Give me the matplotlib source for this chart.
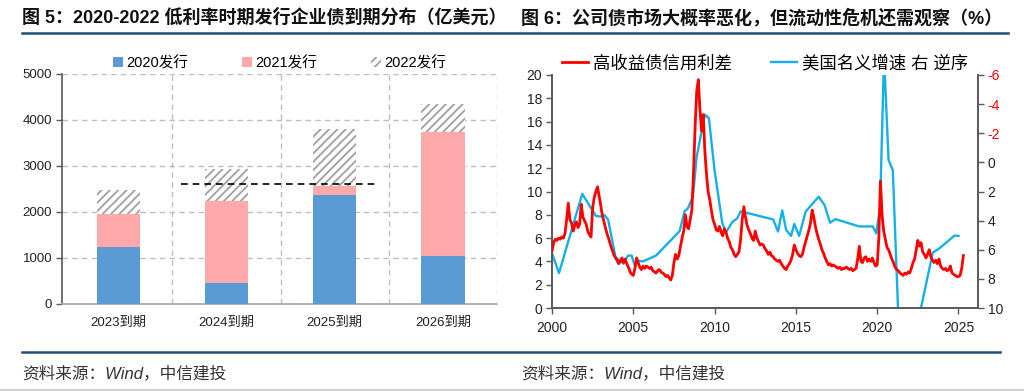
import numpy as np
import matplotlib
matplotlib.use('Agg')
import matplotlib.pyplot as plt
from matplotlib.lines import Line2D
from matplotlib.patches import Patch

plt.rcParams['font.family'] = ['Liberation Sans', 'Noto Sans CJK SC', 'DejaVu Sans']
plt.rcParams['hatch.linewidth'] = 1.3
plt.rcParams['axes.unicode_minus'] = False

# ---------------- data: left chart ----------------
categories = ['2023到期', '2024到期', '2025到期', '2026到期']
bar_series = ['2020发行', '2021发行', '2022发行']
issued_2020 = [1235, 455, 2375, 1035]
issued_2021 = [730, 1795, 180, 2700]
issued_2022 = [520, 695, 1245, 615]
ref_level = 2610
left_yticks = [0, 1000, 2000, 3000, 4000, 5000]

# ---------------- data: right chart ----------------
line_names = ['高收益债信用利差', '美国名义增速 右 逆序']
red_start = 2000.0
red_vals = [
    4.9, 5.6, 5.9, 5.8, 6.0, 5.9, 6.1, 6.0, 6.4, 7.6,
    9.0, 7.6, 7.3, 6.6, 7.1, 7.4, 6.9, 7.2, 8.9, 7.8,
    7.5, 7.2, 6.6, 6.3, 6.1, 8.6, 9.5, 10.0, 10.4, 9.6,
    8.8, 7.9, 7.4, 6.8, 6.3, 5.9, 5.4, 5.0, 4.6, 4.3,
    4.1, 3.8, 4.0, 4.3, 3.9, 4.2, 3.8, 3.5, 3.1, 2.9,
    2.8, 3.4, 4.3, 3.9, 3.5, 3.3, 3.6, 3.4, 3.6, 3.5,
    3.4, 3.5, 3.2, 3.1, 3.0, 3.2, 3.3, 3.1, 3.0, 2.9,
    2.7, 2.8, 2.6, 2.4, 2.8, 3.9, 4.6, 4.2, 4.5, 5.3,
    6.0, 6.6, 8.0, 7.0, 6.8, 7.6, 8.4, 11.5, 15.5, 18.6,
    19.6, 17.0, 15.2, 16.6, 13.5, 11.5, 10.0, 9.3, 8.4, 7.6,
    7.2, 6.7, 6.6, 7.0, 6.5, 6.2, 6.8, 6.5, 6.0, 5.7,
    5.2, 5.0, 4.6, 4.4, 4.6, 4.8, 5.9, 7.6, 8.7, 7.8,
    7.1, 6.7, 6.4, 6.0, 5.8, 6.6, 6.0, 5.7, 5.4, 5.5,
    5.4, 5.1, 4.9, 4.6, 4.8, 4.5, 4.4, 4.2, 4.1, 4.0,
    4.1, 3.8, 3.6, 3.4, 3.3, 3.6, 3.8, 4.1, 4.6, 5.4,
    5.0, 4.7, 4.5, 4.4, 4.6, 5.2, 5.7, 6.2, 6.7, 7.3,
    8.4, 7.8, 7.0, 6.4, 5.9, 5.5, 5.0, 4.7, 4.3, 4.0,
    3.7, 3.8, 3.6, 3.7, 3.6, 3.5, 3.4, 3.5, 3.3, 3.4,
    3.4, 3.5, 3.4, 3.3, 3.4, 3.2, 3.3, 3.4, 4.2, 5.3,
    4.0, 3.9, 4.3, 4.4, 4.0, 4.2, 4.0, 4.3, 3.9, 3.6,
    3.7, 6.0, 10.9, 8.0, 6.6, 5.9, 5.2, 5.0, 4.6, 4.2,
    3.9, 3.5, 3.3, 3.2, 3.0, 2.9, 2.8, 3.0, 2.9, 3.1,
    3.0, 3.4, 3.9, 4.2, 5.0, 5.8, 5.3, 5.6, 4.8, 4.6,
    4.3, 4.6, 5.0, 4.4, 4.1, 3.9, 4.1, 3.8, 4.2, 3.6,
    3.4, 3.3, 3.4, 3.2, 3.3, 3.6, 3.0, 2.9, 2.8, 2.7,
    2.7, 2.8, 3.4, 4.5,
]
blue_years = [2000.0, 2000.43, 2001.86, 2002.7, 2003.0, 2003.2, 2003.45, 2003.9,
              2004.4, 2004.67, 2004.9, 2005.1, 2005.3, 2005.6, 2006.4, 2007.85,
              2008.15, 2008.36, 2008.67, 2008.9, 2009.4, 2009.65, 2010.0, 2010.47,
              2010.7, 2011.1, 2011.4, 2011.6, 2013.6, 2013.9, 2014.16, 2014.4,
              2014.7, 2014.9, 2015.2, 2015.6, 2016.4, 2016.76, 2017.1, 2017.44,
              2018.9, 2019.73, 2019.94, 2020.18, 2020.39, 2020.47, 2020.7, 2020.96,
              2021.5, 2021.75, 2022.0, 2022.25, 2022.5, 2023.42, 2023.83, 2024.75,
              2025.0]
blue_vals = [6.24, 7.6, 2.16, 3.68, 3.72, 3.6, 3.92, 6.48,
             6.96, 6.4, 6.4, 7.12, 6.76, 6.8, 6.4, 4.72,
             3.36, 3.16, 2.32, -0.4, -3.28, -3.04, 0.56, 4.16,
             4.8, 4.08, 3.84, 3.36, 3.92, 4.75, 3.3, 4.64,
             5.05, 4.23, 5.05, 3.38, 2.36, 2.93, 4.14, 3.9,
             4.4, 4.4, 4.87, 3.04, -6.0, -6.0, -0.15, 0.53,
             16.5, 14.5, 14.0, 12.5, 11.0, 6.19, 5.9, 5.03,
             5.05]
right_xticks = [2000, 2005, 2010, 2015, 2020, 2025]
left_axis_ticks = list(range(0, 21, 2))
right_axis_ticks = list(range(-6, 11, 2))

titles = ['图 5：2020-2022 低利率时期发行企业债到期分布（亿美元）',
          '图 6：公司债市场大概率恶化，但流动性危机还需观察（%）']
source_text = '资料来源：Wind，中信建投'

# ---------------- style ----------------
C_BLUE = '#5B9BD5'
C_PINK = '#FFA9AA'
C_HATCH = '#A0A0A0'
C_RED = '#FF0000'
C_SKY = '#15B0EA'
C_AXIS = '#595959'
C_GRID = '#BFBFBF'
C_HEAD = '#1F4E79'
TXT = '#222222'

W, H = 1024, 392
fig = plt.figure(figsize=(W / 100, H / 100), dpi=100)

def fx(px):
    return px / W

def fy(py):
    return 1 - py / H

# titles and rules
fig.text(fx(22), fy(18), titles[0], fontsize=13, fontweight='bold',
         va='center', ha='left', color='#111111')
fig.text(fx(521), fy(18), titles[1], fontsize=13, fontweight='bold',
         va='center', ha='left', color='#111111')
fig.add_artist(Line2D([fx(22), fx(1008)], [fy(33), fy(33)], color=C_HEAD, lw=1.8))
fig.add_artist(Line2D([fx(22), fx(1000)], [fy(352), fy(352)], color=C_HEAD, lw=1.8))
fig.add_artist(Line2D([0, 1], [fy(390), fy(390)], color='#C8C8C8', lw=1.2))
fig.text(fx(22), fy(373), source_text, fontsize=12, style='italic',
         va='center', ha='left', color='#333333')
fig.text(fx(521), fy(373), source_text, fontsize=12, style='italic',
         va='center', ha='left', color='#333333')

# ---------------- left chart ----------------
ax1 = fig.add_axes([fx(62), fy(304), fx(497) - fx(62), fy(74) - fy(304)])
x = np.arange(len(categories))
bw = 0.4
ax1.bar(x, issued_2020, bw, color=C_BLUE, zorder=3)
bottom2 = np.array(issued_2020)
ax1.bar(x, issued_2021, bw, bottom=bottom2, color=C_PINK, zorder=3)
bottom3 = bottom2 + np.array(issued_2021)
ax1.bar(x, issued_2022, bw, bottom=bottom3, facecolor='white',
        edgecolor=C_HATCH, hatch='////', linewidth=0, zorder=3)
ax1.plot([0.58, 2.37], [ref_level, ref_level], color='black', lw=1.2,
         dashes=(4, 3), zorder=4)
ax1.set_xlim(-0.52, 3.5)
ax1.set_ylim(0, 5000)
ax1.set_yticks(left_yticks)
ax1.set_xticks(x)
ax1.set_xticklabels(categories)
ax1.set_xticks([0.5, 1.5, 2.5, 3.5], minor=True)
ax1.tick_params(axis='x', which='both', length=0, pad=9, labelsize=9.5, colors=TXT)
ax1.tick_params(axis='y', length=4, width=1, color=C_AXIS, labelsize=9.5,
                colors=TXT, pad=3)
ax1.grid(axis='y', which='major', color=C_GRID, lw=1, dashes=(4, 3), zorder=0)
ax1.grid(axis='x', which='minor', color=C_GRID, lw=1, dashes=(4, 3), zorder=0)
ax1.set_axisbelow(True)
for s in ['top', 'right']:
    ax1.spines[s].set_visible(False)
ax1.spines['left'].set_color(C_AXIS)
ax1.spines['bottom'].set_color('#A6A6A6')
ax1.spines['left'].set_linewidth(1.2)
ax1.spines['bottom'].set_linewidth(1.2)
handles = [Patch(facecolor=C_BLUE), Patch(facecolor=C_PINK),
           Patch(facecolor='white', edgecolor=C_HATCH, hatch='////', linewidth=0)]
ax1.legend(handles, bar_series, loc='lower center', bbox_to_anchor=(0.5, 0.99),
           ncol=3, frameon=False, fontsize=10.5, handlelength=0.7, handleheight=0.7,
           handletextpad=0.2, columnspacing=3.7, borderaxespad=0)

# ---------------- right chart ----------------
ax2 = fig.add_axes([fx(552), fy(308), fx(978) - fx(552), fy(75) - fy(308)])
red_years = red_start + 0.1 * np.arange(len(red_vals))
l1, = ax2.plot(red_years, red_vals, color=C_RED, lw=2.0, zorder=3)
ax2.set_xlim(2000, 2026.2)
ax2.set_ylim(0, 20)
ax2.set_yticks(left_axis_ticks)
ax2.set_xticks(right_xticks)
ax2.tick_params(axis='both', length=4, width=1, color=C_AXIS, labelsize=10,
                colors=TXT)
ax2.tick_params(axis='x', pad=5)
ax2.tick_params(axis='y', pad=3)
ax3 = ax2.twinx()
l2, = ax3.plot(blue_years, blue_vals, color=C_SKY, lw=1.7, zorder=2)
ax3.set_ylim(10, -6)
ax3.set_yticks(right_axis_ticks)
ax3.tick_params(axis='y', length=4, width=1, color=C_AXIS, labelsize=10, pad=3)
for lab, v in zip(ax3.get_yticklabels(), right_axis_ticks):
    lab.set_color(C_RED if v < 0 else TXT)
ax2.set_zorder(ax3.get_zorder() + 1)
ax2.patch.set_visible(False)
for a in (ax2, ax3):
    a.spines['top'].set_visible(False)
    for s in ['left', 'right', 'bottom']:
        a.spines[s].set_color(C_AXIS)
        a.spines[s].set_linewidth(1.2)
ax2.legend([l1, l2], line_names, loc='lower center', bbox_to_anchor=(0.5, 0.985),
           ncol=2, frameon=False, fontsize=12.5, handlelength=1.5,
           handletextpad=0.3, columnspacing=2.2, borderaxespad=0)

fig.savefig('out.png', dpi=100)
